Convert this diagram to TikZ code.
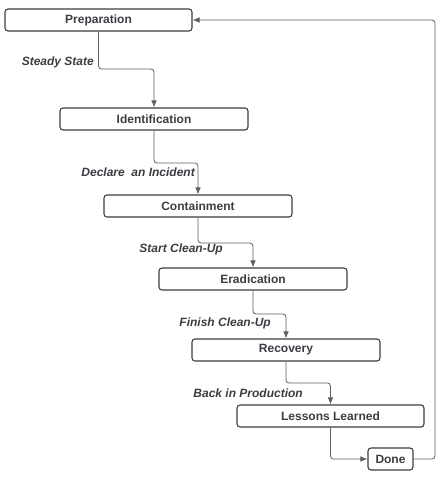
\documentclass[tikz,border=0pt]{standalone}
\usepackage{fontspec}
\setmainfont{Liberation Sans}
\usetikzlibrary{arrows.meta}
\definecolor{boxline}{HTML}{3A3D42}
\definecolor{txt}{HTML}{3A3D42}
\definecolor{conn}{HTML}{5A5D62}
\tikzset{
  stage/.style={draw=boxline, line width=1.1pt, rounded corners=3pt, minimum height=22pt, inner sep=0pt,
    font=\bfseries\fontsize{12}{14}\selectfont, text=txt},
  lbl/.style={font=\bfseries\itshape\fontsize{12}{14}\selectfont, text=txt, inner sep=0pt, anchor=east},
  conn/.style={draw=conn, line width=0.8pt, rounded corners=3pt, -{Latex[length=7pt,width=5.5pt]}}
}
\begin{document}
\begin{tikzpicture}[x=1pt,y=-1pt]
\useasboundingbox (0,0) rectangle (440,480);
\node[stage, minimum width=187pt] (prep) at (98.5,20) {Preparation};
\node[stage, minimum width=188pt] (ident) at (154,119) {Identification};
\node[stage, minimum width=188pt] (cont) at (198,206) {Containment};
\node[stage, minimum width=188pt] (erad) at (253,279) {Eradication};
\node[stage, minimum width=188pt] (reco) at (286,350) {Recovery};
\node[stage, minimum width=187pt] (less) at (330.5,416) {Lessons Learned};
\node[stage, minimum width=45pt] (done) at (390.5,459) {Done};

\node[lbl] (l1) at (94,62) {Steady State};
\node[lbl] (l2) at (195,172) {Declare\ \ an Incident};
\node[lbl] (l3) at (223,249) {Start Clean-Up};
\node[lbl] (l4) at (271,323) {Finish Clean-Up};
\node[lbl] (l5) at (303,393) {Back in Production};

\draw[conn] (prep.south) -- (prep.south |- 0,69) -| (ident.north);
\draw[conn] (ident.south) -- (ident.south |- 0,163) -| (cont.north);
\draw[conn] (cont.south) -- (cont.south |- 0,243) -| (erad.north);
\draw[conn] (erad.south) -- (erad.south |- 0,314) -| (reco.north);
\draw[conn] (reco.south) -- (reco.south |- 0,383) -| (less.north);
\draw[conn] (less.south) |- (done.west);
\coordinate (corner) at (435,459);
\draw[conn] (done.east) -- (corner) |- (prep.east);
\end{tikzpicture}
\end{document}
